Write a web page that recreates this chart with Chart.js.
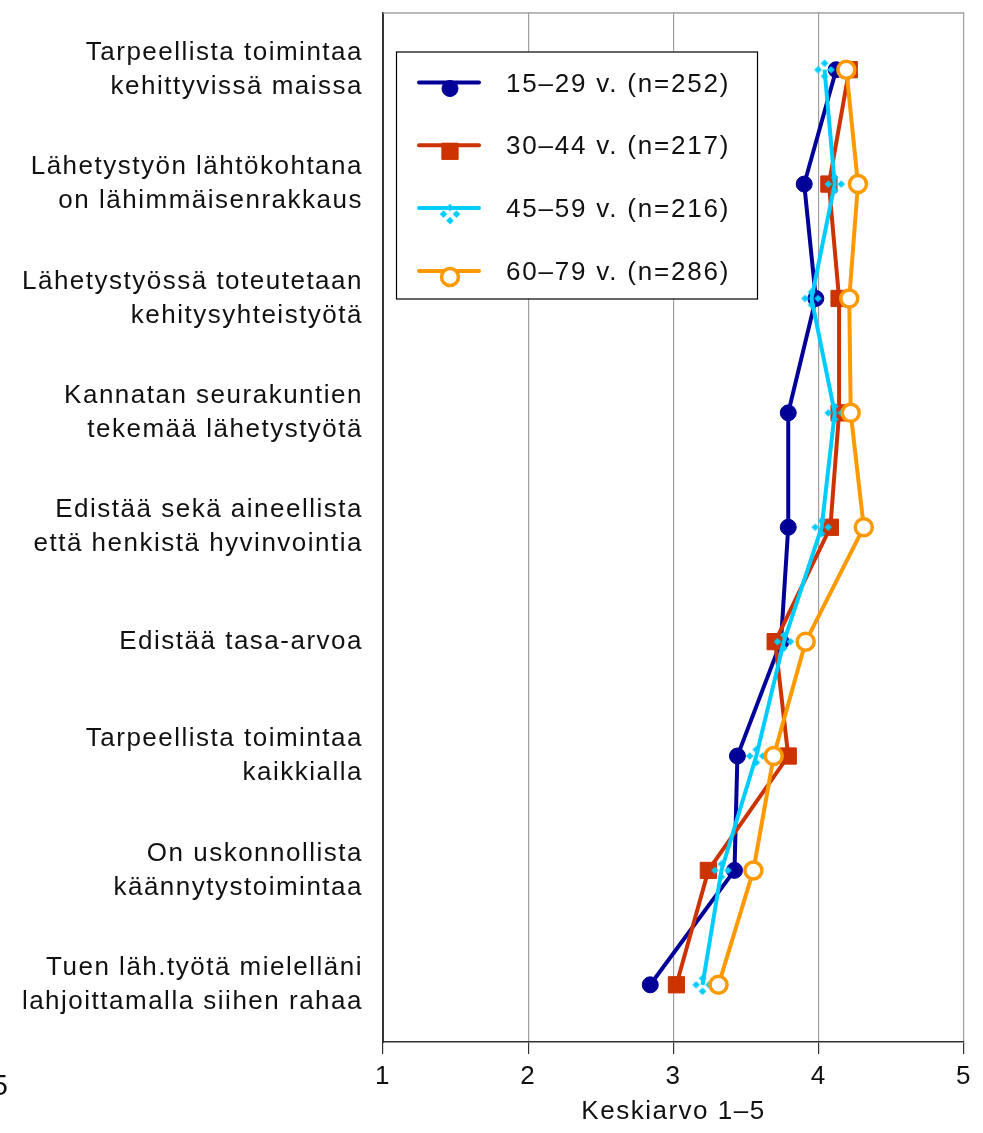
<!DOCTYPE html>
<html><head><meta charset="utf-8">
<script src="https://cdn.jsdelivr.net/npm/chart.js@4.4.0/dist/chart.umd.min.js"></script>
<style>html,body{margin:0;padding:0;background:#fff;}#wrap{width:983px;height:1133px;position:relative;}</style>
</head><body><div id="wrap"><canvas id="c" width="983" height="1133"></canvas></div>
<script>
const categories = [
  ['Tarpeellista toimintaa', 'kehittyvissä maissa'],
  ['Lähetystyön lähtökohtana', 'on lähimmäisenrakkaus'],
  ['Lähetystyössä toteutetaan', 'kehitysyhteistyötä'],
  ['Kannatan seurakuntien', 'tekemää lähetystyötä'],
  ['Edistää sekä aineellista', 'että henkistä hyvinvointia'],
  'Edistää tasa-arvoa',
  ['Tarpeellista toimintaa', 'kaikkialla'],
  ['On uskonnollista', 'käännytystoimintaa'],
  ['Tuen läh.työtä mielelläni', 'lahjoittamalla siihen rahaa']
];
const seriesLabels = ['15–29 v. (n=252)', '30–44 v. (n=217)', '45–59 v. (n=216)', '60–79 v. (n=286)'];
const age15_29 = [4.12, 3.90, 3.98, 3.79, 3.79, 3.74, 3.44, 3.42, 2.84];
const age30_44 = [4.21, 4.07, 4.14, 4.14, 4.08, 3.70, 3.79, 3.24, 3.02];
const age45_59 = [4.04, 4.11, 3.95, 4.11, 4.02, 3.76, 3.57, 3.33, 3.20];
const age60_79 = [4.19, 4.27, 4.21, 4.22, 4.31, 3.91, 3.69, 3.55, 3.31];
const xTickValues = [1, 2, 3, 4, 5];
const axisTitle = 'Keskiarvo 1–5';
const strayText = '5';

const FONT = '"Liberation Sans", Arial, Helvetica, sans-serif';
const TEXT = '#111';
const LS = '1.5px';

function makeDottedDiamond(color) {
  const c = document.createElement('canvas');
  c.width = 24; c.height = 24;
  const g = c.getContext('2d');
  g.fillStyle = color;
  const cx = 12, cy = 12, d = 6.5, s = 3.8;
  [[0, -d], [-d, 0], [d, 0], [0, d]].forEach(([dx, dy]) => {
    g.beginPath();
    g.moveTo(cx + dx, cy + dy - s);
    g.lineTo(cx + dx + s, cy + dy);
    g.lineTo(cx + dx, cy + dy + s);
    g.lineTo(cx + dx - s, cy + dy);
    g.closePath();
    g.fill();
  });
  return c;
}

const COLORS = ['#000099', '#CC3300', '#00CCFF', '#FF9900'];
const seriesData = [age15_29, age30_44, age45_59, age60_79];
const styles = [
  {pointStyle: 'circle', pointRadius: 8, pointBackgroundColor: COLORS[0], pointBorderColor: COLORS[0], pointBorderWidth: 1},
  {pointStyle: 'rect', pointRadius: 11.5, pointBackgroundColor: COLORS[1], pointBorderColor: COLORS[1], pointBorderWidth: 1},
  {pointStyle: makeDottedDiamond(COLORS[2]), pointRadius: 8, pointBackgroundColor: COLORS[2], pointBorderColor: COLORS[2], pointBorderWidth: 0},
  {pointStyle: 'circle', pointRadius: 8.5, pointBackgroundColor: '#ffffff', pointBorderColor: COLORS[3], pointBorderWidth: 3.5}
];

const datasets = seriesData.map((d, i) => Object.assign({
  label: seriesLabels[i],
  data: d,
  borderColor: COLORS[i],
  backgroundColor: COLORS[i],
  borderWidth: 4,
  tension: 0,
  fill: false,
  clip: false,
  order: 4 - i,
  pointHoverRadius: styles[i].pointRadius
}, styles[i]));

const spacingPlugin = {
  id: 'spacing',
  beforeUpdate(chart) { chart.ctx.letterSpacing = LS; },
  beforeDraw(chart) { chart.ctx.letterSpacing = LS; }
};

const framePlugin = {
  id: 'frame',
  beforeDatasetsDraw(chart) {
    const {ctx, chartArea} = chart;
    ctx.save();
    ctx.strokeStyle = '#a0a0a0';
    ctx.lineWidth = 1.5;
    ctx.beginPath();
    ctx.moveTo(chartArea.left, chartArea.top + 0.5);
    ctx.lineTo(chartArea.right, chartArea.top + 0.5);
    ctx.stroke();
    ctx.restore();
  }
};

const legendPlugin = {
  id: 'boxLegend',
  afterDatasetsDraw(chart) {
    const {ctx, chartArea} = chart;
    const bx = chartArea.left + 13, by = chartArea.top + 39, bw = 361, bh = 247;
    ctx.save();
    ctx.fillStyle = '#fff';
    ctx.fillRect(bx, by, bw, bh);
    ctx.strokeStyle = '#000';
    ctx.lineWidth = 1.2;
    ctx.strokeRect(bx + 0.5, by + 0.5, bw, bh);
    chart.data.datasets.forEach((ds, i) => {
      const y = by + 31 + i * 62.8;
      ctx.strokeStyle = ds.borderColor;
      ctx.lineWidth = 4;
      ctx.lineCap = 'round';
      ctx.beginPath();
      ctx.moveTo(bx + 23, y);
      ctx.lineTo(bx + 83, y);
      ctx.stroke();
      ctx.lineCap = 'butt';
      ctx.fillStyle = ds.pointBackgroundColor;
      ctx.strokeStyle = ds.pointBorderColor;
      ctx.lineWidth = ds.pointBorderWidth;
      Chart.helpers.drawPoint(ctx, {pointStyle: ds.pointStyle, radius: ds.pointRadius, rotation: 0, borderWidth: ds.pointBorderWidth}, bx + 54, y + 6);
      ctx.fillStyle = TEXT;
      ctx.font = '26px ' + FONT;
      ctx.letterSpacing = '1.8px';
      ctx.textAlign = 'left';
      ctx.textBaseline = 'middle';
      ctx.fillText(ds.label, bx + 110, y + 2);
    });
    ctx.restore();
  },
  afterDraw(chart) {
    const ctx = chart.ctx;
    ctx.save();
    ctx.fillStyle = TEXT;
    ctx.font = '29px ' + FONT;
    ctx.letterSpacing = '0px';
    ctx.textAlign = 'right';
    ctx.textBaseline = 'alphabetic';
    ctx.fillText(strayText, 8, 1095);
    ctx.restore();
  }
};

new Chart(document.getElementById('c'), {
  type: 'line',
  data: {labels: categories, datasets: datasets},
  plugins: [spacingPlugin, framePlugin, legendPlugin],
  options: {
    responsive: false,
    animation: false,
    indexAxis: 'y',
    layout: {padding: {top: 12, right: 19, bottom: 0, left: 0}},
    plugins: {legend: {display: false}, tooltip: {enabled: false}},
    scales: {
      x: {
        type: 'linear', min: 1, max: 5,
        afterBuildTicks: s => { s.ticks = xTickValues.map(v => ({value: v})); },
        grid: {color: '#a0a0a0', lineWidth: 1.2, tickLength: 12, tickColor: '#333', drawTicks: true},
        border: {color: '#333', width: 1.5},
        ticks: {font: {family: FONT, size: 26}, color: TEXT, padding: 7, maxRotation: 0, autoSkip: false},
        title: {display: true, text: axisTitle, font: {family: FONT, size: 26}, color: TEXT, padding: {top: 0, bottom: 6}},
        afterFit: s => { s.height = 91; }
      },
      y: {
        type: 'category',
        offset: true,
        grid: {display: true, drawOnChartArea: false, drawTicks: false, offset: true},
        border: {color: '#333', width: 2},
        ticks: {font: {family: FONT, size: 26, lineHeight: 1.31}, color: TEXT, padding: 20, autoSkip: false},
        afterFit: s => { s.width = 383; s.paddingTop = 0; s.paddingBottom = 0; }
      }
    }
  }
});
</script>
</body></html>
